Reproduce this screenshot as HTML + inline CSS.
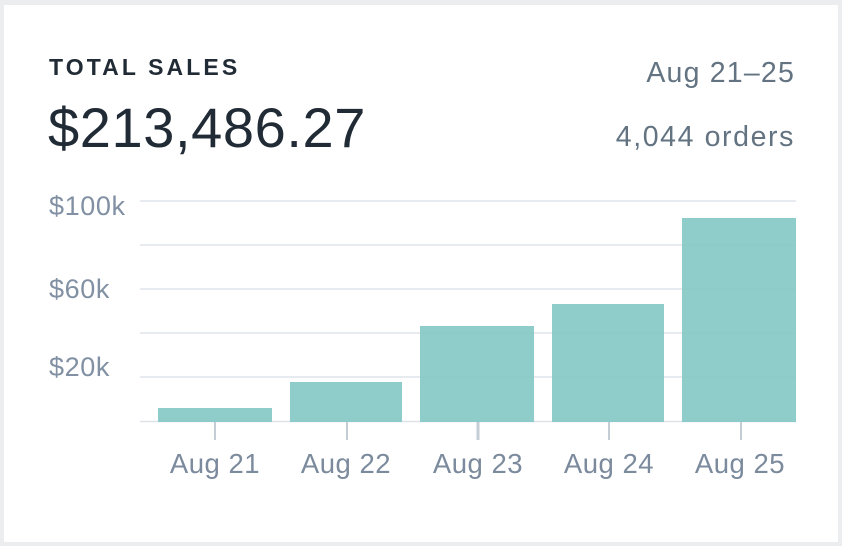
<!DOCTYPE html>
<html><head><meta charset="utf-8"><style>
html,body{margin:0;padding:0;}
body{width:842px;height:546px;background:#ebedef;position:relative;overflow:hidden;font-family:"Liberation Sans",sans-serif;}
.card{position:absolute;left:4px;top:5px;width:834px;height:537px;background:#fff;}
.t{position:absolute;white-space:nowrap;}
</style></head><body>
<div class="card"></div>
<div class="t" style="left:49px;top:54px;font-size:23px;font-weight:bold;letter-spacing:3.1px;color:#212b36;">TOTAL SALES</div>
<div class="t" style="left:48px;top:95px;font-size:56px;letter-spacing:0.6px;color:#212b36;">$213,486.27</div>
<div class="t" style="right:47px;top:57px;font-size:28.5px;letter-spacing:1.2px;color:#637381;">Aug 21–25</div>
<div class="t" style="right:47px;top:121px;font-size:28.5px;letter-spacing:1.6px;color:#637381;">4,044 orders</div>
<svg width="842" height="546" style="position:absolute;left:0;top:0" font-family="Liberation Sans, sans-serif">
<g fill="#8190a3" font-size="27" letter-spacing="0.6">
<text x="49" y="215">$100k</text>
<text x="49" y="298">$60k</text>
<text x="49" y="376">$20k</text>
</g>
<g stroke="#dfe3e8" stroke-width="1.5">
<line x1="140" x2="796" y1="201" y2="201"/>
<line x1="140" x2="796" y1="245" y2="245"/>
<line x1="140" x2="796" y1="289" y2="289"/>
<line x1="140" x2="796" y1="333" y2="333"/>
<line x1="140" x2="796" y1="377" y2="377"/>
<line x1="140" x2="796" y1="421.5" y2="421.5"/>
</g>
<g fill="#7fc6c3" fill-opacity="0.88">
<rect x="158" y="408" width="114" height="14"/>
<rect x="290" y="382" width="112" height="40"/>
<rect x="420" y="326" width="114" height="96"/>
<rect x="552" y="304" width="112" height="118"/>
<rect x="682" y="218" width="114" height="204"/>
</g>
<g stroke="#c4cdd5" stroke-width="2">
<line x1="215" x2="215" y1="422" y2="440"/>
<line x1="347" x2="347" y1="422" y2="440"/>
<line x1="478" x2="478" y1="422" y2="440" stroke-width="3"/>
<line x1="609" x2="609" y1="422" y2="440"/>
<line x1="741" x2="741" y1="422" y2="440"/>
</g>
<g fill="#7b8a9c" font-size="27.5" letter-spacing="0.5" text-anchor="middle">
<text x="215" y="473">Aug 21</text>
<text x="346" y="473">Aug 22</text>
<text x="478" y="473">Aug 23</text>
<text x="609" y="473">Aug 24</text>
<text x="740" y="473">Aug 25</text>
</g>
</svg>
</body></html>
